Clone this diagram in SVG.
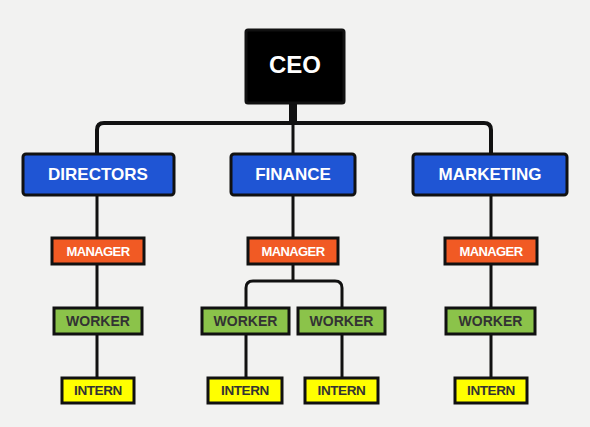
<svg xmlns="http://www.w3.org/2000/svg" width="590" height="427" viewBox="0 0 590 427">
<style>
.n{stroke:#111;stroke-width:3}
.t{font-family:"Liberation Sans",Arial,sans-serif;font-weight:bold;text-anchor:middle;dominant-baseline:central}
.c{fill:none;stroke:#111;stroke-width:3;stroke-linejoin:round}
</style>
<rect width="590" height="427" fill="#f2f2f1"/>
<g id="connectors" class="c">
<path d="M97,169 V130 Q97,123 104,123 H484 Q491,123 491,130 V169" stroke-width="4"/>
<path d="M293,103 V123" stroke-width="8"/>
<path d="M293,123 V169"/>
<path d="M97,196 V238 M97,264 V308 M97,334 V378"/>
<path d="M491,196 V238 M491,264 V308 M491,334 V378"/>
<path d="M293,196 V238 M293,264 V281"/>
<path d="M246,308 V288 Q246,281 253,281 H335 Q342,281 342,288 V308"/>
<path d="M246,334 V378 M342,334 V378"/>
</g>
<g id="ceo"><rect class="n" x="246" y="30" width="98" height="73" rx="2" fill="#000"/><text class="t" x="295" y="64" fill="#fff" font-size="24">CEO</text></g>
<g id="directors"><rect class="n" x="23" y="154" width="151" height="41" rx="3" fill="#1f55d4"/><text class="t" x="98" y="174" fill="#fff" font-size="17">DIRECTORS</text></g>
<g id="finance"><rect class="n" x="231" y="154" width="124" height="41" rx="3" fill="#1f55d4"/><text class="t" x="293" y="174" fill="#fff" font-size="17">FINANCE</text></g>
<g id="marketing"><rect class="n" x="413" y="154" width="154" height="41" rx="3" fill="#1f55d4"/><text class="t" x="490" y="174" fill="#fff" font-size="17">MARKETING</text></g>
<g id="manager1"><rect class="n" x="52" y="238" width="92" height="26" fill="#f15a24"/><text class="t" x="98" y="251" fill="#fff" font-size="13" letter-spacing="-0.6">MANAGER</text></g>
<g id="manager2"><rect class="n" x="248" y="238" width="90" height="26" fill="#f15a24"/><text class="t" x="293" y="251" fill="#fff" font-size="13" letter-spacing="-0.6">MANAGER</text></g>
<g id="manager3"><rect class="n" x="445" y="238" width="92" height="26" fill="#f15a24"/><text class="t" x="491" y="251" fill="#fff" font-size="13" letter-spacing="-0.6">MANAGER</text></g>
<g id="worker1"><rect class="n" x="54" y="308" width="88" height="26" fill="#8bc34a"/><text class="t" x="98" y="321" fill="#333" font-size="14">WORKER</text></g>
<g id="worker2"><rect class="n" x="202" y="308" width="87" height="26" fill="#8bc34a"/><text class="t" x="245.5" y="321" fill="#333" font-size="14">WORKER</text></g>
<g id="worker3"><rect class="n" x="298" y="308" width="87" height="26" fill="#8bc34a"/><text class="t" x="341.5" y="321" fill="#333" font-size="14">WORKER</text></g>
<g id="worker4"><rect class="n" x="446" y="308" width="89" height="26" fill="#8bc34a"/><text class="t" x="490.5" y="321" fill="#333" font-size="14">WORKER</text></g>
<g id="intern1"><rect class="n" x="62" y="378" width="72" height="25" fill="#ffff00"/><text class="t" x="98" y="390.5" fill="#333" font-size="13.5" letter-spacing="-0.4">INTERN</text></g>
<g id="intern2"><rect class="n" x="208" y="378" width="74" height="25" fill="#ffff00"/><text class="t" x="245" y="390.5" fill="#333" font-size="13.5" letter-spacing="-0.4">INTERN</text></g>
<g id="intern3"><rect class="n" x="305" y="378" width="73" height="25" fill="#ffff00"/><text class="t" x="341.5" y="390.5" fill="#333" font-size="13.5" letter-spacing="-0.4">INTERN</text></g>
<g id="intern4"><rect class="n" x="455" y="378" width="72" height="25" fill="#ffff00"/><text class="t" x="491" y="390.5" fill="#333" font-size="13.5" letter-spacing="-0.4">INTERN</text></g>
</svg>
